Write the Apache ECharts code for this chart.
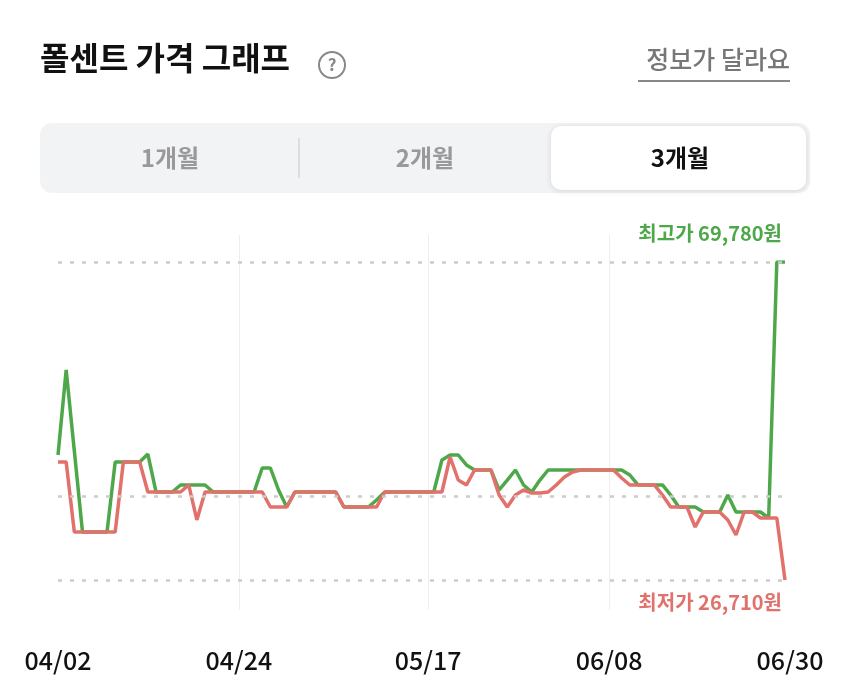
<!DOCTYPE html>
<html><head><meta charset="utf-8">
<script src="https://cdn.jsdelivr.net/npm/echarts@6/dist/echarts.min.js"></script>
<style>html,body{margin:0;padding:0;background:#fff}#c{width:850px;height:690px}</style>
</head><body><div id="c"></div>
<script>
const startDate = new Date(2024, 3, 2);
const dates = [];
for (let i = 0; i < 90; i++) { const d = new Date(startDate); d.setDate(d.getDate() + i); dates.push(String(d.getMonth()+1).padStart(2,'0') + '/' + String(d.getDate()).padStart(2,'0')); }
const tickLabels = ['04/02','04/24','05/17','06/08','06/30'];
const highPrices = [43640,55150,44180,33210,33210,33210,33210,42690,42690,42690,42690,43770,38630,38630,38630,39580,39580,39580,39580,38630,38630,38630,38630,38630,38630,41880,41880,38900,36600,38630,38630,38630,38630,38630,38630,36600,36600,36600,36600,37550,38630,38630,38630,38630,38630,38630,38630,42960,43640,43640,42290,41610,41610,41610,38900,40250,41610,39580,38630,40250,41610,41610,41610,41610,41610,41610,41610,41610,41610,41610,40930,39580,39580,39580,39580,38220,36600,36600,36600,35920,35920,35920,38220,35920,35920,35920,35920,35110,69780,69780];
const lowPrices = [42690,42690,33210,33210,33210,33210,33210,33210,42690,42690,42690,38630,38630,38630,38630,38630,39580,34840,38630,38630,38630,38630,38630,38630,38630,38630,36600,36600,36600,38630,38630,38630,38630,38630,38630,36600,36600,36600,36600,36600,38630,38630,38630,38630,38630,38630,38630,38630,43370,40250,39580,41610,41610,41610,38220,36600,38220,38900,38490,38490,38630,39580,40660,41340,41610,41610,41610,41610,41610,40520,39580,39580,39580,39580,38220,36600,36600,36600,33890,35920,35920,35920,34840,32800,35920,35920,35110,35110,35110,26710];
const maxPrice = 69780, minPrice = 26710, avgPrice = 38090;
const green = '#4ea84a', red = '#e2716b';
const chart = echarts.init(document.getElementById('c'));
const F = '"Noto Sans CJK KR","Noto Sans",sans-serif';
const tickIdx = tickLabels.map(t => dates.indexOf(t));
chart.setOption({
  animation:false,
  grid:[{left:58,right:65,top:262,bottom:110},{left:58,right:60,top:235,bottom:80}],
  xAxis:[
    {type:'category',data:dates,boundaryGap:false,gridIndex:0,show:false},
    {type:'category',data:dates,boundaryGap:false,gridIndex:1,axisLine:{show:false},axisTick:{show:false},
     axisLabel:{interval:(i)=>tickIdx.includes(i),margin:38,fontSize:25,color:'#111',fontFamily:F,fontWeight:500},
     splitLine:{show:true,interval:(i)=>tickIdx.slice(1,4).includes(i),lineStyle:{color:'#eeeeee',width:1}}}
  ],
  yAxis:[
    {type:'value',min:minPrice,max:maxPrice,gridIndex:0,show:false},
    {type:'value',gridIndex:1,show:false}
  ],
  graphic:[
    {type:'text',left:40,top:42,style:{text:'폴센트 가격 그래프',font:'bold 32px '+F,fill:'#111'}},
    {type:'circle',shape:{cx:332,cy:65,r:13},style:{fill:'none',stroke:'#888',lineWidth:2}},
    {type:'text',x:332,y:65,style:{text:'?',font:'bold 17px '+F,fill:'#888',align:'center',verticalAlign:'middle'}},
    {type:'text',right:60,top:47,style:{text:'정보가 달라요',font:'500 25px '+F,fill:'#777'}},
    {type:'rect',shape:{x:638,y:80,width:152,height:2},style:{fill:'#888'}},
    {type:'rect',shape:{x:40,y:123,width:770,height:70,r:12},style:{fill:'#f2f3f5'}},
    {type:'rect',shape:{x:298,y:138,width:2,height:40},style:{fill:'#ddd'}},
    {type:'rect',shape:{x:551,y:126,width:255,height:64,r:10},style:{fill:'#fff',shadowBlur:6,shadowColor:'rgba(0,0,0,0.12)',shadowOffsetY:1}},
    {type:'text',x:170,y:158,style:{text:'1개월',font:'bold 24px '+F,fill:'#999',align:'center',verticalAlign:'middle'}},
    {type:'text',x:425,y:158,style:{text:'2개월',font:'bold 24px '+F,fill:'#999',align:'center',verticalAlign:'middle'}},
    {type:'text',x:680,y:158,style:{text:'3개월',font:'bold 24px '+F,fill:'#111',align:'center',verticalAlign:'middle'}},
    {type:'text',right:68,top:223,style:{text:'최고가 69,780원',font:'bold 20px '+F,fill:green}},
    {type:'text',right:68,top:592,style:{text:'최저가 26,710원',font:'bold 20px '+F,fill:red}}
  ],
  series:[
    {type:'line',data:highPrices,symbol:'none',lineStyle:{color:green,width:3.5},z:3,
     markLine:{silent:true,symbol:'none',label:{show:false},lineStyle:{color:'#ccc',type:[4,8],width:2.5},
       data:[{yAxis:maxPrice},{yAxis:avgPrice},{yAxis:minPrice}]}},
    {type:'line',data:lowPrices,symbol:'none',lineStyle:{color:red,width:3.5},z:4}
  ]
});
</script></body></html>
